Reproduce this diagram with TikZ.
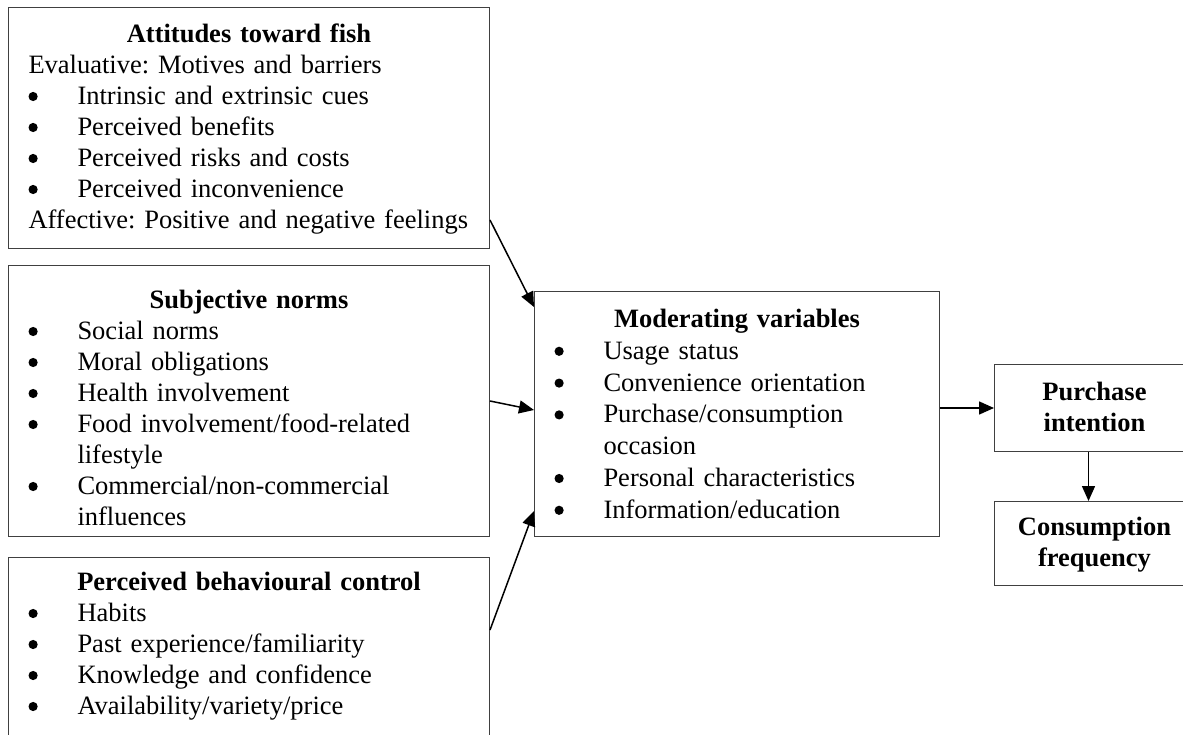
\documentclass[tikz,border=0pt]{standalone}
\usepackage{fontspec}
\setmainfont{Liberation Serif}
\usepackage{tikz}
\usetikzlibrary{arrows.meta,calc}

\newcommand{\bitem}[1]{\par\hangindent=49pt\hangafter=1%
  \makebox[49pt][l]{\tikz[baseline=-8pt]\fill (0pt,0pt) circle (4.6pt);}#1\par}

\begin{document}
\begin{tikzpicture}[x=1pt,y=-1pt,
  box/.style={draw=black!75,line width=1pt,anchor=north west,inner xsep=20pt,inner ysep=0pt,
    execute at begin node=\raggedright\frenchspacing,font=\fontsize{26.5}{31}\selectfont},
  goal/.style={draw=black!75,line width=1pt,anchor=north west,inner xsep=10pt,inner ysep=0pt,
    text width=180pt,align=center,font=\fontsize{26.5}{31}\selectfont\bfseries},
  arr/.style={-{Triangle[length=15pt,width=13pt]},line width=1.5pt}]
\useasboundingbox (0,0) rectangle (1183,735);
\fill[white] (0,0) rectangle (1183,735);
\clip (0,0) rectangle (1183,735);

\node (attitudes) [box,text width=441pt,text height=35pt,text depth=206pt] at (8,7) {%
{\centering\textbf{Attitudes toward fish}\par}
Evaluative: Motives and barriers\par
\bitem{Intrinsic and extrinsic cues}
\bitem{Perceived benefits}
\bitem{Perceived risks and costs}
\bitem{Perceived inconvenience}
Affective: Positive and negative feelings};

\node (norms) [box,text width=441pt,text height=43pt,text depth=228pt] at (8,265) {%
{\centering\textbf{Subjective norms}\par}
\bitem{Social norms}
\bitem{Moral obligations}
\bitem{Health involvement}
\bitem{Food involvement/food-related\newline lifestyle}
\bitem{Commercial/non-commercial\newline influences}};

\node (control) [box,text width=441pt,text height=33pt,text depth=155pt] at (8,557) {%
{\centering\textbf{Perceived behavioural control}\par}
\bitem{Habits}
\bitem{Past experience/familiarity}
\bitem{Knowledge and confidence}
\bitem{Availability/variety/price}};

\node (moderating) [box,text width=365pt,text height=36pt,text depth=209pt,font=\fontsize{26.5}{31.8}\selectfont] at (534,291) {%
{\centering\textbf{Moderating variables}\par}
\bitem{Usage status}
\bitem{Convenience orientation}
\bitem{Purchase/consumption\newline occasion}
\bitem{Personal characteristics}
\bitem{Information/education}};

\node (intention) [goal,text height=36pt,text depth=51pt] at (994,364) {Purchase\\intention};
\node (frequency) [goal,text height=34pt,text depth=50pt] at (994,501) {Consumption\\frequency};

% arrows into the moderating box
\draw [arr] ($(attitudes.south east)+(0,-29)$) -- ($(moderating.north west)+(0,16)$);
\draw [arr] (norms.east) -- ([yshift=4pt]moderating.west);
\draw [arr] ($(control.north east)+(0,73)$) -- ($(moderating.south west)+(0,-26)$);

\draw [arr] (intention.west -| moderating.east) -- (intention.west);
\draw [arr] ([xshift=-6pt]intention.south) -- ([xshift=-6pt]frequency.north);
\end{tikzpicture}
\end{document}
